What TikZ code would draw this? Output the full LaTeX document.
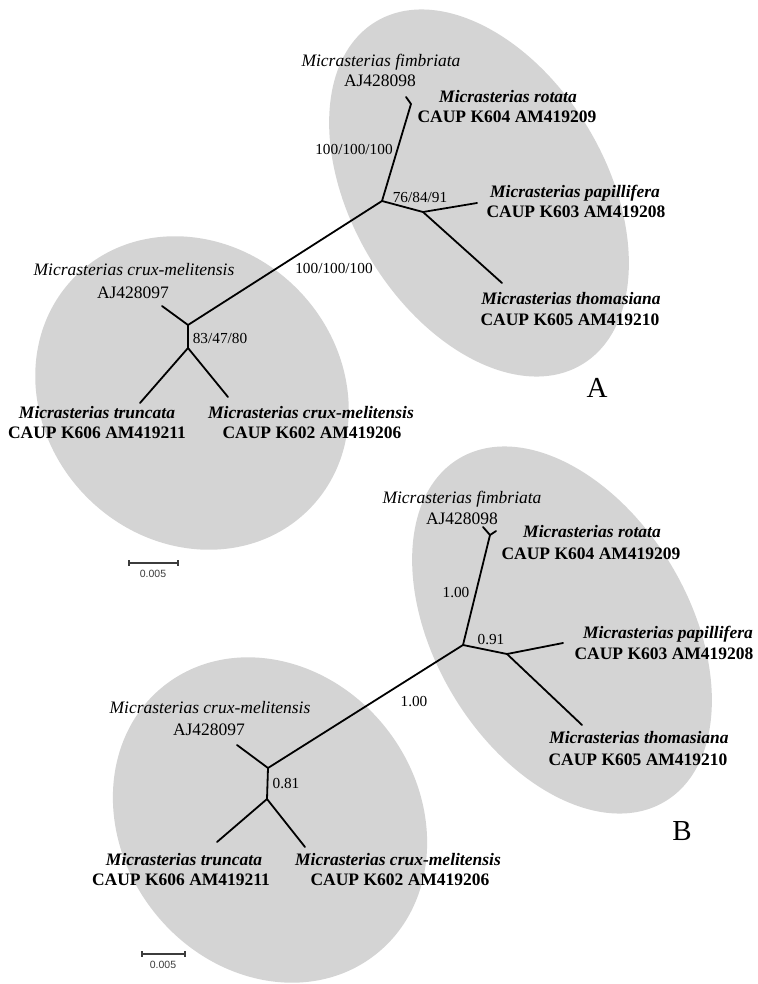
\documentclass[tikz,border=0pt]{standalone}
\usepackage{fontspec}
\setmainfont{Liberation Serif}
\setsansfont{Liberation Sans}
\definecolor{ellgray}{RGB}{212,212,212}
\definecolor{barcol}{RGB}{60,60,60}
\begin{document}
\begin{tikzpicture}[x=1pt,y=-1pt,
  br/.style={line width=1.8pt, line cap=round, line join=round},
  ell/.style={fill=ellgray},
  itl/.style={font=\fontsize{17.5}{20}\selectfont\itshape, anchor=base, inner sep=0pt},
  bit/.style={font=\fontsize{17.5}{20}\selectfont\bfseries\itshape, anchor=base, inner sep=0pt},
  bld/.style={font=\fontsize{17.5}{20}\selectfont\bfseries, anchor=base, inner sep=0pt},
  rgl/.style={font=\fontsize{17.5}{20}\selectfont, anchor=base, inner sep=0pt},
  supp/.style={font=\fontsize{15.3}{18}\selectfont, anchor=base, inner sep=0pt},
  panel/.style={font=\fontsize{29}{32}\selectfont, anchor=base, inner sep=0pt},
  scl/.style={font=\fontsize{10.5}{12}\selectfont\sffamily, anchor=base, inner sep=0pt, text=barcol},
  sbar/.style={line width=1.4pt, draw=barcol}
]
\useasboundingbox (0,0) rectangle (757,984);
\clip (0,0) rectangle (757,984);
\fill[white] (0,0) rectangle (757,984);

% ---------------- ellipses ----------------
\fill[ell, rotate around={-59:(479,193)}] (479,193) ellipse [x radius=200pt, y radius=127pt];
\fill[ell, rotate around={-45:(192,393)}] (192,393) ellipse [x radius=165pt, y radius=148pt];
\fill[ell, rotate around={-59:(562,630)}] (562,630) ellipse [x radius=200pt, y radius=127pt];
\fill[ell, rotate around={-52:(270,820)}] (270,820) ellipse [x radius=171pt, y radius=148pt];

% ---------------- tree A ----------------
\coordinate (aP1) at (382,201);
\coordinate (aN2) at (411,104);
\coordinate (aFim) at (406,97);
\coordinate (aP2) at (423,212);
\coordinate (aPap) at (477,203);
\coordinate (aTho) at (502,283);
\coordinate (aQ1) at (188,325);
\coordinate (aAJ) at (162,306);
\coordinate (aQ2) at (188,348);
\coordinate (aTru) at (140,403);
\coordinate (aCru) at (228,397);
\draw[br] (aFim) -- (aN2) -- (aP1) -- (aP2) -- (aPap);
\draw[br] (aP2) -- (aTho);
\draw[br] (aP1) -- (aQ1) -- (aAJ);
\draw[br] (aQ1) -- (aQ2) -- (aTru);
\draw[br] (aQ2) -- (aCru);

% ---------------- tree B ----------------
\coordinate (bP1) at (463,645);
\coordinate (bN2) at (490,535);
\coordinate (bFim) at (483,527);
\coordinate (bRot) at (496,531);
\coordinate (bP2) at (507,654);
\coordinate (bPap) at (563,643);
\coordinate (bTho) at (582,725);
\coordinate (bQ1) at (268,768);
\coordinate (bAJ) at (237,745);
\coordinate (bQ2) at (267,799);
\coordinate (bTru) at (217,842);
\coordinate (bCru) at (305,847);
\draw[br] (bFim) -- (bN2) -- (bP1) -- (bP2) -- (bPap);
\draw[br] (bN2) -- (bRot);
\draw[br] (bP2) -- (bTho);
\draw[br] (bP1) -- (bQ1) -- (bAJ);
\draw[br] (bQ1) -- (bQ2) -- (bTru);
\draw[br] (bQ2) -- (bCru);

% ---------------- labels A ----------------
\node[itl] (aFimT) at (381,66.5) {Micrasterias fimbriata};
\node[rgl] (aFimN) at (380,87) {AJ428098};
\node[bit] (aRotT) at (508,102.5) {Micrasterias rotata};
\node[bld] (aRotN) at (507,123) {CAUP K604 AM419209};
\node[supp] (aS1) at (354,155) {100/100/100};
\node[supp] (aS2) at (420,203) {76/84/91};
\node[bit] (aPapT) at (575,197.5) {Micrasterias papillifera};
\node[bld] (aPapN) at (576,218) {CAUP K603 AM419208};
\node[bit] (aThoT) at (571,304.5) {Micrasterias thomasiana};
\node[bld] (aThoN) at (570,325) {CAUP K605 AM419210};
\node[panel] (aLab) at (597,397) {A};
\node[supp] (aS3) at (334,273) {100/100/100};
\node[itl] (aAJT) at (134,275.5) {Micrasterias crux-melitensis};
\node[rgl] (aAJN) at (133,298) {AJ428097};
\node[supp] (aS4) at (220,343) {83/47/80};
\node[bit] (aTruT) at (97,418.5) {Micrasterias truncata};
\node[bld] (aTruN) at (97,438) {CAUP K606 AM419211};
\node[bit] (aCruT) at (311,418.5) {Micrasterias crux-melitensis};
\node[bld] (aCruN) at (312,438) {CAUP K602 AM419206};
\coordinate (aSb1) at (129,563);
\coordinate (aSb2) at (178,563);
\draw[sbar] (aSb1) -- (aSb2);
\draw[sbar] ([yshift=3pt]aSb1) -- ([yshift=-3pt]aSb1);
\draw[sbar] ([yshift=3pt]aSb2) -- ([yshift=-3pt]aSb2);
\node[scl] (aSbT) at (153,577.5) {0.005};

% ---------------- labels B ----------------
\node[itl] (bFimT) at (462,503.5) {Micrasterias fimbriata};
\node[rgl] (bFimN) at (462,524) {AJ428098};
\node[bit] (bRotT) at (592,537.5) {Micrasterias rotata};
\node[bld] (bRotN) at (591,559) {CAUP K604 AM419209};
\node[supp] (bS1) at (456,597) {1.00};
\node[supp] (bS2) at (491,644) {0.91};
\node[bit] (bPapT) at (668,638.5) {Micrasterias papillifera};
\node[bld] (bPapN) at (664,659) {CAUP K603 AM419208};
\node[bit] (bThoT) at (639,743.5) {Micrasterias thomasiana};
\node[bld] (bThoN) at (638,765) {CAUP K605 AM419210};
\node[panel] (bLab) at (682,840) {B};
\node[supp] (bS3) at (414,706) {1.00};
\node[itl] (bAJT) at (210,713.5) {Micrasterias crux-melitensis};
\node[rgl] (bAJN) at (209,735) {AJ428097};
\node[supp] (bS4) at (286,788) {0.81};
\node[bit] (bTruT) at (184,865.5) {Micrasterias truncata};
\node[bld] (bTruN) at (181,885) {CAUP K606 AM419211};
\node[bit] (bCruT) at (398,865.5) {Micrasterias crux-melitensis};
\node[bld] (bCruN) at (400,885) {CAUP K602 AM419206};
\coordinate (bSb1) at (142,954);
\coordinate (bSb2) at (185,954);
\draw[sbar] (bSb1) -- (bSb2);
\draw[sbar] ([yshift=3pt]bSb1) -- ([yshift=-3pt]bSb1);
\draw[sbar] ([yshift=3pt]bSb2) -- ([yshift=-3pt]bSb2);
\node[scl] (bSbT) at (163,968.5) {0.005};
\end{tikzpicture}
\end{document}
